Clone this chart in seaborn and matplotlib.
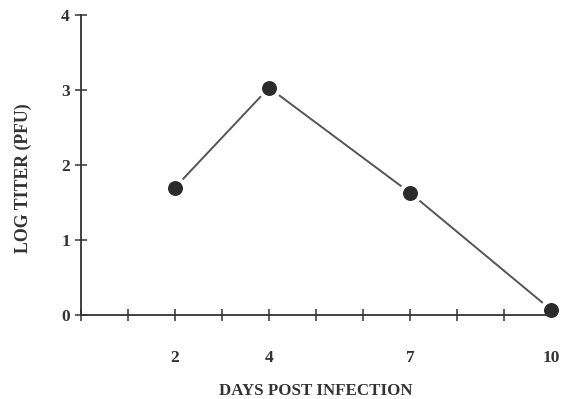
import matplotlib
matplotlib.use("Agg")
import matplotlib.pyplot as plt
import seaborn as sns
import pandas as pd

days = [2, 4, 7, 10]
log_titer = [1.70, 3.03, 1.63, 0.07]
x_ticks = list(range(0, 11))
x_labels = ["", "", "2", "", "4", "", "", "7", "", "", "10"]
y_ticks = [0, 1, 2, 3, 4]

sns.set_theme(style="white")
plt.rcParams['font.family'] = ['Liberation Serif', 'DejaVu Serif']

fig = plt.figure(figsize=(5.73, 3.99), dpi=100)
ax = fig.add_axes([81/573, 1 - 315/399, (551 - 81)/573, 300/399])

df = pd.DataFrame({"day": days, "titer": log_titer})
sns.lineplot(data=df, x="day", y="titer", ax=ax, color="#555555", linewidth=1.4,
             marker="o", markersize=13.7, markerfacecolor="#2b2b2b",
             markeredgecolor="white", markeredgewidth=2.9, clip_on=False)

ax.set_xlim(0, 10)
ax.set_ylim(0, 4)
ax.set_xticks(x_ticks)
ax.set_xticklabels(x_labels)
ax.set_yticks(y_ticks)
for s in ["top", "right"]:
    ax.spines[s].set_visible(False)
for s in ["left", "bottom"]:
    ax.spines[s].set_color("#333333")
    ax.spines[s].set_linewidth(1.3)
ax.tick_params(axis="x", bottom=True, direction="inout", length=9, width=1.1, color="#333333",
               pad=21, labelsize=12.5, labelcolor="#333333")
ax.tick_params(axis="y", left=True, direction="inout", length=8, width=1.1, color="#333333",
               pad=4, labelsize=12.5, labelcolor="#333333")
for lab in ax.get_xticklabels() + ax.get_yticklabels():
    lab.set_fontweight("bold")
ax.set_xlabel("DAYS POST INFECTION", fontsize=12.2, fontweight="bold", color="#333333", labelpad=12)
ax.set_ylabel("LOG TITER (PFU)", fontsize=12.8, fontweight="bold", color="#333333")
ax.yaxis.set_label_coords(-0.105, 0.457)
ax.grid(False)

fig.savefig("out.png", dpi=100)
